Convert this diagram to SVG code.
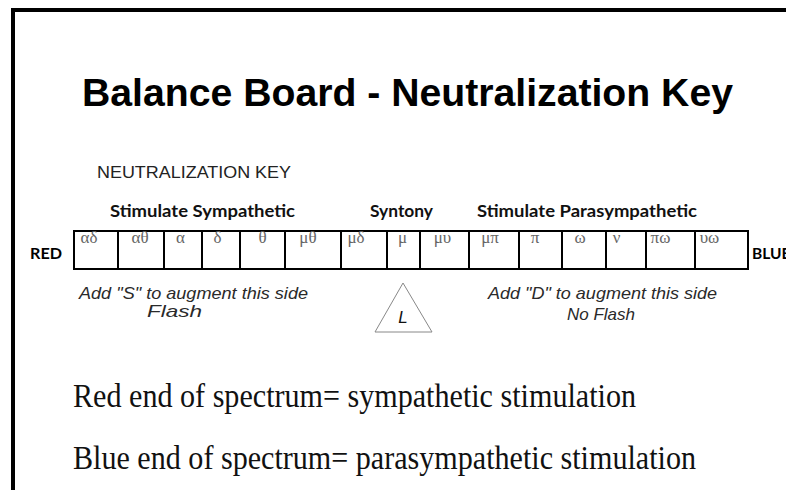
<svg xmlns="http://www.w3.org/2000/svg" width="786" height="490" viewBox="0 0 786 490">
<style>
.frame{stroke:#000;stroke-width:4;fill:none}
.title{font-family:"Liberation Sans",Arial,sans-serif;font-weight:bold;font-size:38px;fill:#000}
.key{font-family:"Liberation Sans",Arial,sans-serif;font-size:16.5px;fill:#222}
.hdr{font-family:Lato,"Liberation Sans",sans-serif;font-weight:bold;font-size:17px;fill:#111}
.end{font-family:Lato,"Liberation Sans",sans-serif;font-weight:bold;font-size:15.5px;fill:#000}
.cell{fill:#fff;stroke:#000;stroke-width:2}
.gk{font-family:"Liberation Serif","DejaVu Serif",serif;font-size:17px;fill:#666;text-anchor:middle}
.note{font-family:"Liberation Sans",Arial,sans-serif;font-style:italic;font-size:17px;fill:#2a2a2a}
.tri{fill:#fff;stroke:#888;stroke-width:1}
.big{font-family:"Liberation Serif","Times New Roman",serif;font-size:33px;fill:#111}
</style>
<rect width="786" height="490" fill="#fff"/>
<g id="frame">
<line class="frame" x1="11" y1="10" x2="786" y2="10"/>
<line class="frame" x1="13" y1="8" x2="13" y2="490"/>
</g>
<g id="title">
<text class="title" x="82" y="106" textLength="651" lengthAdjust="spacingAndGlyphs">Balance Board - Neutralization Key</text>
</g>
<g id="key-label">
<text class="key" x="97" y="178" textLength="194" lengthAdjust="spacingAndGlyphs">NEUTRALIZATION KEY</text>
</g>
<g id="headers">
<text class="hdr" x="110" y="217" textLength="185" lengthAdjust="spacingAndGlyphs">Stimulate Sympathetic</text>
<text class="hdr" x="370" y="217" textLength="63" lengthAdjust="spacingAndGlyphs">Syntony</text>
<text class="hdr" x="477" y="217" textLength="220" lengthAdjust="spacingAndGlyphs">Stimulate Parasympathetic</text>
</g>
<g id="red-label"><text class="end" x="30" y="259" textLength="32" lengthAdjust="spacingAndGlyphs">RED</text></g>
<g id="blue-label"><text class="end" x="752" y="259">BLUE</text></g>
<g id="table">
<rect class="cell" x="74" y="231" width="44" height="38"/>
<rect class="cell" x="118" y="231" width="46" height="38"/>
<rect class="cell" x="164" y="231" width="38" height="38"/>
<rect class="cell" x="202" y="231" width="38" height="38"/>
<rect class="cell" x="240" y="231" width="45" height="38"/>
<rect class="cell" x="285" y="231" width="56" height="38"/>
<rect class="cell" x="341" y="231" width="46" height="38"/>
<rect class="cell" x="387" y="231" width="33" height="38"/>
<rect class="cell" x="420" y="231" width="49" height="38"/>
<rect class="cell" x="469" y="231" width="50" height="38"/>
<rect class="cell" x="519" y="231" width="43" height="38"/>
<rect class="cell" x="562" y="231" width="44" height="38"/>
<rect class="cell" x="606" y="231" width="40" height="38"/>
<rect class="cell" x="646" y="231" width="49" height="38"/>
<rect class="cell" x="695" y="231" width="53" height="38"/>
<text class="gk" x="89" y="243">αδ</text>
<text class="gk" x="140" y="243">αθ</text>
<text class="gk" x="180.5" y="243">α</text>
<text class="gk" x="217.5" y="243">δ</text>
<text class="gk" x="262.5" y="243">θ</text>
<text class="gk" x="308" y="243">μθ</text>
<text class="gk" x="356" y="243">μδ</text>
<text class="gk" x="402.5" y="243">μ</text>
<text class="gk" x="442.5" y="243">μυ</text>
<text class="gk" x="490" y="243">μπ</text>
<text class="gk" x="535" y="243">π</text>
<text class="gk" x="580" y="243">ω</text>
<text class="gk" x="616.5" y="243">ν</text>
<text class="gk" x="660.5" y="243">πω</text>
<text class="gk" x="709.5" y="243">υω</text>
</g>
<g id="note-left">
<text class="note" x="79" y="299" textLength="229" lengthAdjust="spacingAndGlyphs">Add "S" to augment this side</text>
<text class="note" x="147" y="317" textLength="55" lengthAdjust="spacingAndGlyphs">Flash</text>
</g>
<g id="syntony-triangle">
<polygon class="tri" points="403,283 375,332 432,332"/>
<text x="403" y="323" text-anchor="middle" style="font-family:'Liberation Sans',Arial,sans-serif;font-style:italic;font-size:17px;fill:#111">L</text>
</g>
<g id="note-right">
<text class="note" x="488" y="299" textLength="229" lengthAdjust="spacingAndGlyphs">Add "D" to augment this side</text>
<text class="note" x="567" y="320" textLength="68" lengthAdjust="spacingAndGlyphs">No Flash</text>
</g>
<g id="legend">
<text class="big" x="73" y="407" textLength="563" lengthAdjust="spacingAndGlyphs">Red end of spectrum= sympathetic stimulation</text>
<text class="big" x="73" y="469" textLength="623" lengthAdjust="spacingAndGlyphs">Blue end of spectrum= parasympathetic stimulation</text>
</g>
</svg>
